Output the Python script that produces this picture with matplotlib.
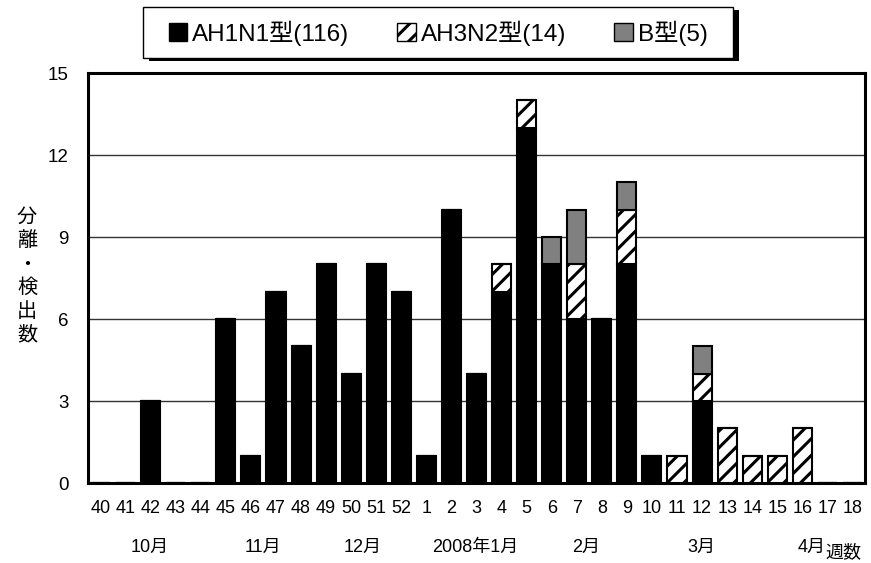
import matplotlib.pyplot as plt
import numpy as np
from matplotlib.patches import Patch, Rectangle

plt.rcParams['font.family'] = ['Liberation Sans', 'Noto Sans CJK JP', 'DejaVu Sans']
plt.rcParams['hatch.linewidth'] = 2.2

weeks = ['40', '41', '42', '43', '44', '45', '46', '47', '48', '49', '50', '51', '52',
         '1', '2', '3', '4', '5', '6', '7', '8', '9', '10', '11', '12', '13', '14',
         '15', '16', '17', '18']
h1n1 = [0, 0, 3, 0, 0, 6, 1, 7, 5, 8, 4, 8, 7,
        1, 10, 4, 7, 13, 8, 6, 6, 8, 1, 0, 3, 0, 0, 0, 0, 0, 0]
h3n2 = [0, 0, 0, 0, 0, 0, 0, 0, 0, 0, 0, 0, 0,
        0, 0, 0, 1, 1, 0, 2, 0, 2, 0, 1, 1, 2, 1, 1, 2, 0, 0]
flu_b = [0, 0, 0, 0, 0, 0, 0, 0, 0, 0, 0, 0, 0,
         0, 0, 0, 0, 0, 1, 2, 0, 1, 0, 0, 1, 0, 0, 0, 0, 0, 0]
months = ['10月', '11月', '12月', '2008年1月', '2月', '3月', '4月']
month_pos = [1.97, 6.46, 10.47, 14.94, 19.37, 23.96, 28.39]

x = np.arange(len(weeks))
h1 = np.array(h1n1)
h3 = np.array(h3n2)
b = np.array(flu_b)

W, H = 871, 563
fig = plt.figure(figsize=(W / 100, H / 100), dpi=100)
ax = fig.add_axes([88 / W, 1 - 483 / H, (865 - 88) / W, (483 - 73) / H])

w = 0.76
ax.bar(x, h1, w, color='black', edgecolor='black', linewidth=1.5, zorder=3)
ax.bar(x, h3, w, bottom=h1, color='white', edgecolor='black', hatch='//',
       linewidth=1.5, zorder=3)
ax.bar(x, b, w, bottom=h1 + h3, color='#808080', edgecolor='black',
       linewidth=1.5, zorder=3)

ax.set_xlim(-0.5, len(weeks) - 0.5)
ax.set_ylim(0, 15)
ax.set_yticks([0, 3, 6, 9, 12, 15])
ax.yaxis.grid(True, color='#333333', linewidth=1.0, zorder=0)
ax.set_xticks(x)
ax.set_xticklabels(weeks, fontsize=13)
ax.tick_params(axis='x', length=0, pad=12)
ax.tick_params(axis='y', length=0, pad=14, labelsize=13.5)
for s in ax.spines.values():
    s.set_linewidth(2.2)

for m, p in zip(months, month_pos):
    ax.text(p, -0.158, m, transform=ax.get_xaxis_transform(), ha='center',
            va='center', fontsize=13)
ax.text(29.63, -0.17, '週数', transform=ax.get_xaxis_transform(), ha='center',
        va='center', fontsize=13)

fig.text(27 / W, 1 - 276 / H, '分\n離\n・\n検\n出\n数', ha='center', va='center',
         fontsize=14.5, linespacing=1.3)

# legend box with drop shadow
bx0, bx1, by0, by1 = 143, 733, 7, 58
fig.patches.append(Rectangle((bx0 / W + 6 / W, 1 - (by1 + 3) / H), (bx1 - bx0) / W,
                             (by1 - by0) / H, transform=fig.transFigure,
                             facecolor='black', edgecolor='none', zorder=1))
fig.patches.append(Rectangle((bx0 / W, 1 - by1 / H), (bx1 - bx0) / W, (by1 - by0) / H,
                             transform=fig.transFigure, facecolor='white',
                             edgecolor='black', linewidth=1.0, zorder=2))

handles = [Patch(facecolor='black', edgecolor='black'),
           Patch(facecolor='white', edgecolor='black', hatch='//'),
           Patch(facecolor='#808080', edgecolor='black')]
labels = ['AH1N1型(116)', 'AH3N2型(14)', 'B型(5)']
leg = fig.legend(handles, labels, loc='center', bbox_to_anchor=(438 / W, 1 - 33 / H),
                 ncol=3, fontsize=17.5, frameon=False,
                 handlelength=0.75, handleheight=0.75, handletextpad=0.2,
                 columnspacing=2.0, borderpad=0.3)
leg.set_zorder(5)

fig.savefig('out.png', dpi=100)
